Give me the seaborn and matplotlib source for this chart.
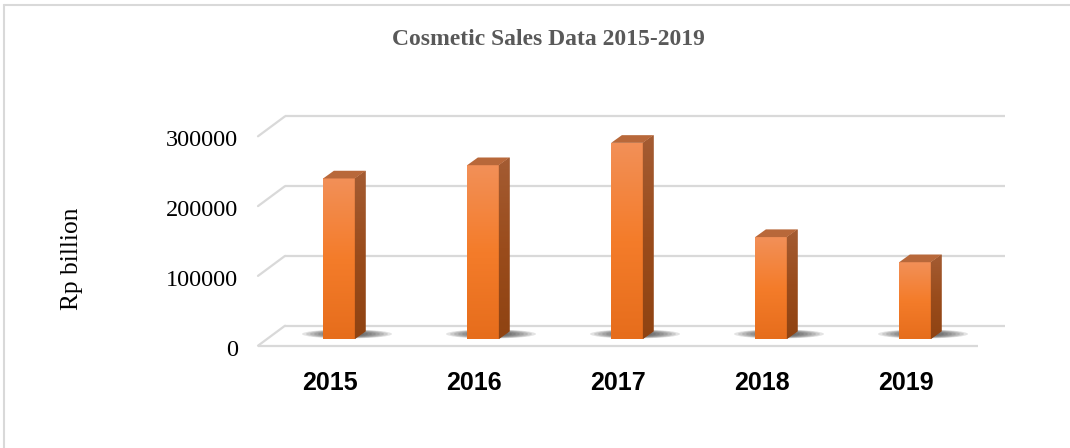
import numpy as np
import matplotlib
matplotlib.use("Agg")
import matplotlib.pyplot as plt
import seaborn as sns
import pandas as pd
from matplotlib.patches import Polygon, Ellipse
from matplotlib.lines import Line2D
from matplotlib.transforms import ScaledTranslation, IdentityTransform
from matplotlib.colors import LinearSegmentedColormap

# ---- data ----
years = ["2015", "2016", "2017", "2018", "2019"]
sales = [230000, 249000, 281000, 146000, 110000]
yticks = [0, 100000, 200000, 300000]
ytick_labels = ["0", "100000", "200000", "300000"]
title = "Cosmetic Sales Data 2015-2019"
ylabel = "Rp billion"

sns.set_theme(style="white")
plt.rcParams['font.family'] = ['Liberation Serif', 'DejaVu Serif']

W, H = 1070, 448
fig = plt.figure(figsize=(W / 100, H / 100), dpi=100)
fig.patch.set_facecolor("white")


def px(x0, y0, x1, y1):
    return [x0 / W, 1 - y1 / H, (x1 - x0) / W, (y1 - y0) / H]


PX_PER_UNIT_Y = 69.8e-5
YMAX = 320000
ax = fig.add_axes(px(267, 339 - YMAX * PX_PER_UNIT_Y, 987, 339))
df = pd.DataFrame({"year": years, "sales": sales})
sns.barplot(data=df, x="year", y="sales", ax=ax, width=0.22, color="#F07A2A",
            saturation=1, edgecolor="none", zorder=3)
ax.set_xlim(-0.5, 4.5)
ax.set_ylim(0, YMAX)
ax.axis("off")


def off(dx, dy):
    return ScaledTranslation(dx / 100, dy / 100, fig.dpi_scale_trans)


back = ax.transData + off(18, 13.3)
front = ax.transData + off(-9, -6.7)
gc = "#D9D9D9"

# back wall gridlines + slanted left wall lines
for v in yticks:
    ax.plot([-0.5, 4.5], [v, v], transform=back, color=gc, lw=1.6,
            clip_on=False, zorder=0, solid_capstyle="butt")
    p = ax.transData.transform((-0.5, v))
    ax.add_line(Line2D([p[0] - 9, p[0] + 18], [p[1] - 6.7, p[1] + 13.3],
                       transform=IdentityTransform(), color=gc, lw=1.6,
                       clip_on=False, zorder=0))
# front floor edge
ax.plot([-0.5, 4.5], [0, 0], transform=front, color=gc, lw=1.6,
        clip_on=False, zorder=0, solid_capstyle="butt")

# ---- 3D decoration of bars ----
front_cmap = LinearSegmentedColormap.from_list(
    "f", ["#F29058", "#F47C2A", "#E66D1C"])
side_cmap = LinearSegmentedColormap.from_list(
    "s", ["#A45C33", "#9A4C1C", "#8F4312"])
grad = np.linspace(0, 1, 256).reshape(-1, 1)
DX, DY = 10.7, 7.7  # depth in px
dx_data = DX / 144.0
dy_data = DY / PX_PER_UNIT_Y

for p in list(ax.patches):
    x, w, h = p.get_x(), p.get_width(), p.get_height()
    cx = x + w / 2
    # shadow
    c = ax.transData.transform((cx, 0))
    for k in range(9):
        e = Ellipse((c[0] + 8, c[1] + 5), 90 - k * 8, 9 - k * 0.6,
                    transform=IdentityTransform(), facecolor="#282828",
                    edgecolor="none", alpha=0.13, zorder=1, clip_on=False)
        ax.add_patch(e)
    # front gradient
    im = ax.imshow(grad, extent=[x, x + w, 0, h], aspect="auto",
                   cmap=front_cmap, zorder=4, origin="upper")
    im.set_clip_path(p)
    # side face
    bl = ax.transData.transform((x + w, 0))
    tl = ax.transData.transform((x + w, h))
    side = Polygon([bl, tl, tl + [DX, DY], bl + [DX, DY]], closed=True,
                   transform=IdentityTransform(), facecolor="#9A4C1C",
                   edgecolor="none", zorder=4, clip_on=False)
    ax.add_patch(side)
    ims = ax.imshow(grad, extent=[x + w, x + w + dx_data, 0, h + dy_data],
                    aspect="auto", cmap=side_cmap, zorder=5, origin="upper")
    ims.set_clip_path(side)
    ims.set_clip_on(True)
    # top face
    tr = ax.transData.transform((x, h))
    top = Polygon([tr, tl, tl + [DX, DY], tr + [DX, DY]], closed=True,
                  transform=IdentityTransform(), facecolor="#B8683A",
                  edgecolor="none", zorder=5, clip_on=False)
    ax.add_patch(top)

ax.set_xlim(-0.5, 4.5)
ax.set_ylim(0, YMAX)

# y tick labels on the front plane
ylab_tr = ax.get_yaxis_transform() + off(-29, -11)
for v, t in zip(yticks, ytick_labels):
    ax.text(0, v, t, transform=ylab_tr, ha="right", va="center",
            fontsize=17.5, color="black", clip_on=False)

# x category labels
xlab_tr = ax.transData + off(-9, -44)
for i, t in enumerate(years):
    ax.text(i, 0, t, transform=xlab_tr, ha="center", va="center",
            fontsize=18, fontweight="bold", family=["Liberation Sans", "DejaVu Sans"],
            color="black", clip_on=False)

fig.text(548 / W, 1 - 45 / H, title, ha="center", va="baseline", fontsize=17,
         fontweight="bold", color="#595959")
fig.text(72 / W, 1 - 259 / H, ylabel, rotation=90, ha="center", va="center",
         fontsize=18.3, color="black")

# outer chart border (top and left visible)
fig.add_artist(Line2D([4 / W, 4 / W], [0, 1 - 5 / H], transform=fig.transFigure,
                      color=gc, lw=1.5))
fig.add_artist(Line2D([4 / W, 1], [1 - 5 / H, 1 - 5 / H], transform=fig.transFigure,
                      color=gc, lw=1.5))

fig.savefig("out.png", dpi=100, facecolor="white")
